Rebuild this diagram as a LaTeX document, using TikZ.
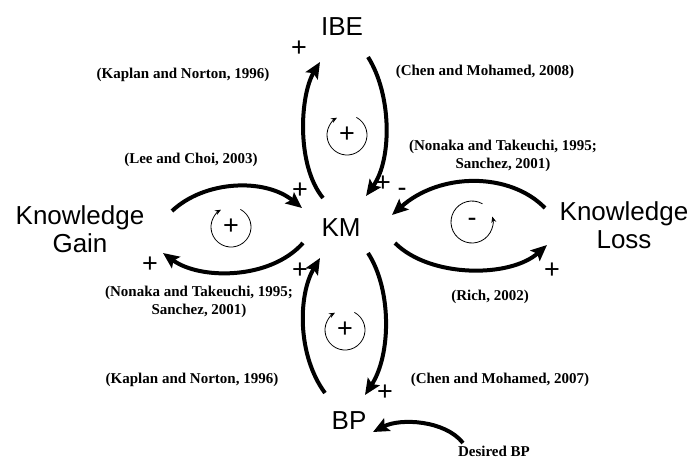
\documentclass[tikz,border=0pt]{standalone}
\usepackage{fontspec}
\setmainfont{Liberation Sans}
\newfontfamily\citefont{Liberation Serif}
\usetikzlibrary{arrows.meta}

\tikzset{
  var/.style={font=\fontsize{26}{28}\selectfont, inner sep=0pt, align=center},
  cite/.style={font=\citefont\bfseries\fontsize{15}{17.5}\selectfont, inner sep=0pt, align=center},
  sign/.style={font=\fontsize{27}{27}\selectfont, inner sep=0pt},
  link/.style={line width=4pt, -{Stealth[length=16pt,width=14pt,inset=3pt]}},
  loopring/.style={line width=0.8pt, -{Stealth[length=6pt,width=5pt]}},
}

\begin{document}
\begin{tikzpicture}[x=1pt, y=-1pt]
  \useasboundingbox[fill=white] (0,0) rectangle (694,459);

  % variables
  \node[var] (ibe)  at (342,27)  {IBE};
  \node[var] (km)   at (341,228) {KM};
  \node[var] (gain) at (80,229)  {Knowledge\\Gain};
  \node[var] (loss) at (624,225) {Knowledge\\Loss};
  \node[var] (bp)   at (349,421) {BP};
  \node[cite, anchor=base] (dbp) at (494,456) {Desired BP};

  % arc end points
  \coordinate (a1) at (323,198); \coordinate (a2) at (320,62);
  \coordinate (b1) at (368,57);  \coordinate (b2) at (366,196);
  \coordinate (c1) at (172,211); \coordinate (c2) at (302,208);
  \coordinate (d1) at (303,243); \coordinate (d2) at (163,253);
  \coordinate (e1) at (545,208); \coordinate (e2) at (392,215);
  \coordinate (f1) at (395,243); \coordinate (f2) at (547,245);
  \coordinate (g1) at (325,393); \coordinate (g2) at (320,258);
  \coordinate (h1) at (368,253); \coordinate (h2) at (365,395);
  \coordinate (i1) at (463,443); \coordinate (i2) at (373,432);

  % causal links
  \draw[link] (a1) .. controls (296,165) and (300,95) .. (a2);
  \draw[link] (b1) .. controls (392,95) and (392,160) .. (b2);
  \draw[link] (c1) .. controls (205,180) and (265,178) .. (c2);
  \draw[link] (d1) .. controls (270,280) and (200,280) .. (d2);
  \draw[link] (e1) .. controls (510,172) and (440,172) .. (e2);
  \draw[link] (f1) .. controls (430,278) and (510,278) .. (f2);
  \draw[link] (g1) .. controls (297,355) and (298,295) .. (g2);
  \draw[link] (h1) .. controls (392,290) and (391,355) .. (h2);
  \draw[link] (i1) .. controls (445,420) and (400,418) .. (i2);

  % loop markers
  \coordinate (r1) at (347,135);
  \coordinate (r2) at (231,227);
  \coordinate (r3) at (472,222);
  \coordinate (r4) at (345,330);
  \draw[loopring] (r1) ++(-62:20) arc[start angle=-62, end angle=240, radius=20];
  \draw[loopring] (r2) ++(-62:20) arc[start angle=-62, end angle=240, radius=20];
  \draw[loopring] (r3) ++(-60:21) arc[start angle=-60, end angle=-375, radius=21];
  \draw[loopring] (r4) ++(-62:20) arc[start angle=-62, end angle=240, radius=20];
  \node[sign] (l1) at (r1) {+};
  \node[sign] (l2) at (r2) {+};
  \node[sign] (l3) at (r3) {-};
  \node[sign] (l4) at (r4) {+};

  % link polarities
  \node[sign] (p1) at (299,49)  {+};
  \node[sign] (p2) at (383,184) {+};
  \node[sign] (p3) at (402,192) {-};
  \node[sign] (p4) at (300,191) {+};
  \node[sign] (p5) at (150,265) {+};
  \node[sign] (p6) at (300,271) {+};
  \node[sign] (p7) at (552,271) {+};
  \node[sign] (p8) at (385,393) {+};

  % references
  \node[cite] (k1) at (183,75)  {(Kaplan and Norton, 1996)};
  \node[cite] (c8) at (485,72)  {(Chen and Mohamed, 2008)};
  \node[cite] (lc) at (191,160) {(Lee and Choi, 2003)};
  \node[cite] (n1) at (503,156) {(Nonaka and Takeuchi, 1995;\\Sanchez, 2001)};
  \node[cite] (n2) at (199,302) {(Nonaka and Takeuchi, 1995;\\Sanchez, 2001)};
  \node[cite] (ri) at (490,297) {(Rich, 2002)};
  \node[cite] (k2) at (192,380) {(Kaplan and Norton, 1996)};
  \node[cite] (c7) at (500,380) {(Chen and Mohamed, 2007)};
\end{tikzpicture}
\end{document}
